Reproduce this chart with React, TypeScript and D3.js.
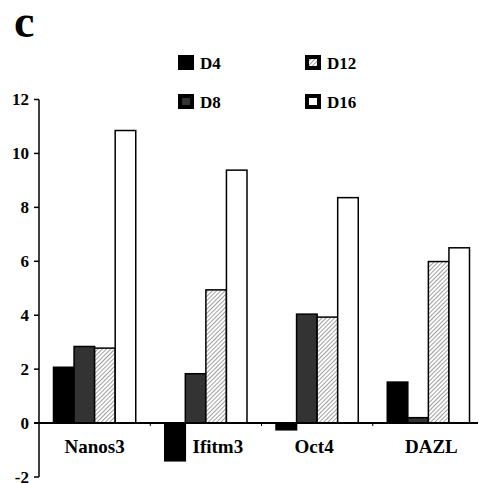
import React from "react";
import * as d3 from "d3";

const categories = ["Nanos3", "Ifitm3", "Oct4", "DAZL"];
const seriesNames = ["D4", "D8", "D12", "D16"];
const D4 = [2.07, -1.4, -0.25, 1.52];
const D8 = [2.84, 1.83, 4.04, 0.2];
const D12 = [2.78, 4.94, 3.93, 5.99];
const D16 = [10.85, 9.38, 8.36, 6.5];
const yTicks = [-2, 0, 2, 4, 6, 8, 10, 12];

const seriesValues = [D4, D8, D12, D16];
const fills = ["#000", "#333", "url(#hatch)", "#fff"];
const labelShift = [0, 12, -3, 3];

export default function App() {
  const W = 479, H = 483;
  const y = d3.scaleLinear().domain([-2, 12]).range([477, 99.5]);
  const x0 = d3.scaleBand().domain(categories).range([39, 484]).padding(0);
  const x1 = d3
    .scaleBand()
    .domain(seriesNames)
    .range([14.5, x0.bandwidth() - 14.5])
    .padding(0);
  const font = "Liberation Serif, Tinos, Times New Roman, DejaVu Serif, serif";
  const legend = [
    { name: "D4", x: 178, y: 55 },
    { name: "D8", x: 178, y: 94 },
    { name: "D12", x: 305, y: 55 },
    { name: "D16", x: 305, y: 94 },
  ];
  return (
    <svg
      width={W}
      height={H}
      style={{ position: "absolute", left: 0, top: 0, background: "#fff", fontFamily: font }}
    >
      <defs>
        <pattern
          id="hatch"
          width={3}
          height={3}
          patternUnits="userSpaceOnUse"
          patternTransform="rotate(45)"
        >
          <rect width={3} height={3} fill="#fff" />
          <line x1={0} y1={0} x2={0} y2={3} stroke="#777" strokeWidth={1.4} />
        </pattern>
      </defs>
      <rect width={W} height={H} fill="#fff" />
      <text x={14} y={37} fontSize={46} fontWeight="bold" style={{ fontFamily: font }}>
        c
      </text>
      {legend.map((l) => {
        const si = seriesNames.indexOf(l.name);
        return (
          <g key={l.name}>
            <rect x={l.x} y={l.y} width={16} height={15} fill="#000" />
            {si > 0 && (
              <rect x={l.x + 4} y={l.y + 4} width={8} height={7} fill={fills[si]} />
            )}
            <text x={l.x + 22} y={l.y + 14} fontSize={17} fontWeight="bold" style={{ fontFamily: font }}>
              {l.name}
            </text>
          </g>
        );
      })}
      {categories.map((c, ci) => (
        <g key={c} transform={`translate(${x0(c)},0)`}>
          {seriesNames.map((s, si) => {
            const v = seriesValues[si][ci];
            const top = y(Math.max(0, v));
            const bot = y(Math.min(0, v));
            return (
              <rect
                key={s}
                x={x1(s)}
                y={top}
                width={x1.bandwidth()}
                height={bot - top}
                fill={fills[si]}
                stroke="#000"
                strokeWidth={1.5}
              />
            );
          })}
        </g>
      ))}
      <line x1={39} x2={39} y1={y(12)} y2={y(-2)} stroke="#000" strokeWidth={1.5} />
      {yTicks.map((t) => (
        <g key={t}>
          <line x1={34} x2={39} y1={y(t)} y2={y(t)} stroke="#000" strokeWidth={1.5} />
          <text
            x={29}
            y={y(t)}
            dy="0.35em"
            textAnchor="end"
            fontSize={17}
            fontWeight="bold"
            style={{ fontFamily: font }}
          >
            {t}
          </text>
        </g>
      ))}
      <line x1={34} x2={478} y1={y(0)} y2={y(0)} stroke="#000" strokeWidth={2} />
      {categories.slice(1).map((c) => (
        <line key={c} x1={x0(c)} x2={x0(c)} y1={y(0)} y2={y(0) + 3} stroke="#000" strokeWidth={1} />
      ))}
      {categories.map((c, ci) => (
        <text
          key={c}
          x={(x0(c) as number) + x0.bandwidth() / 2 + labelShift[ci]}
          y={453}
          textAnchor="middle"
          fontSize={19}
          fontWeight="bold"
          style={{ fontFamily: font }}
        >
          {c}
        </text>
      ))}
    </svg>
  );
}
